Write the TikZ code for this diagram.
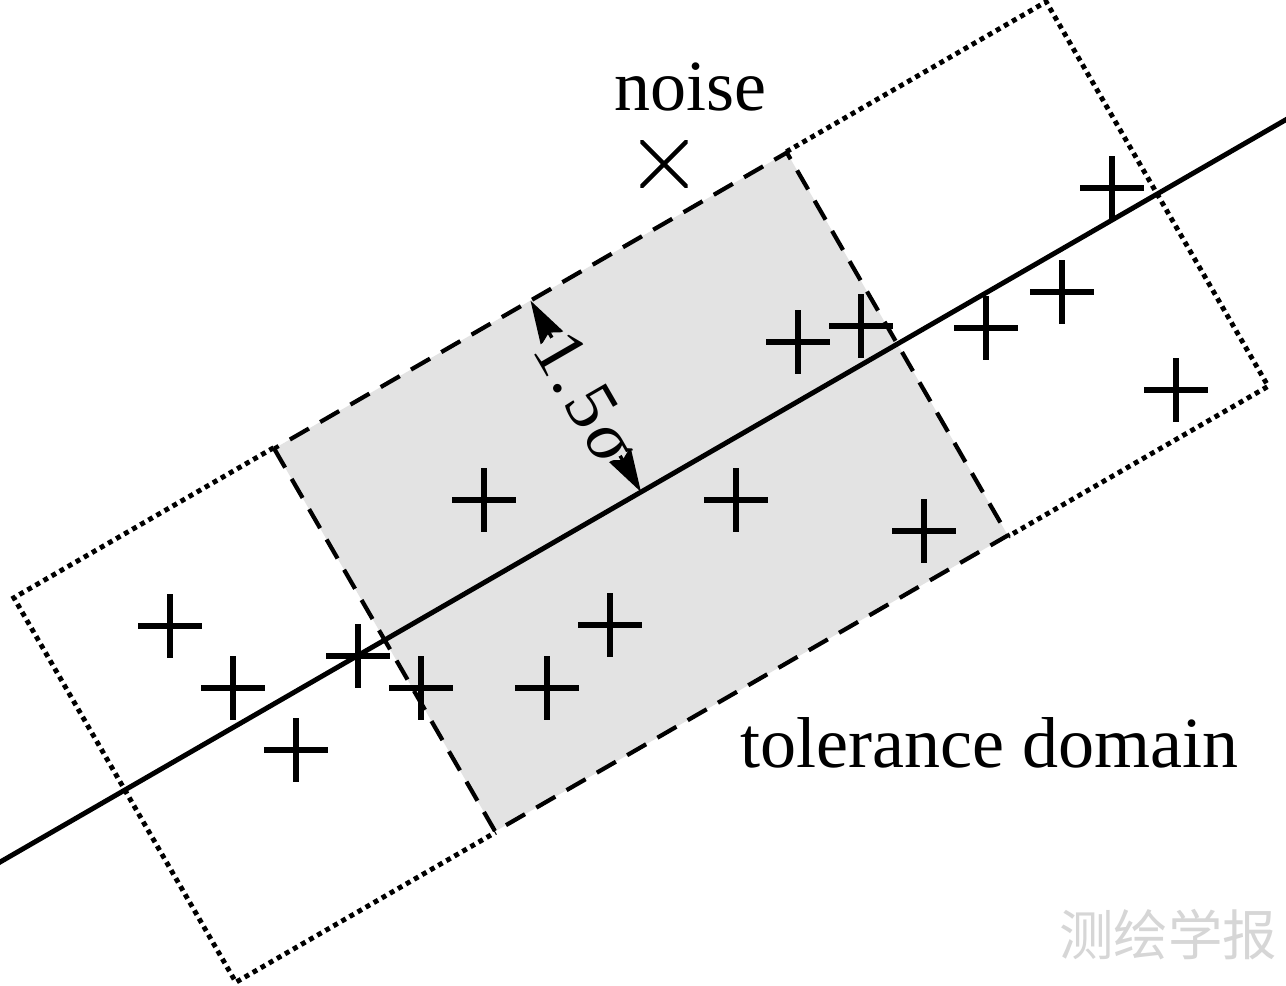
\documentclass[tikz,border=0pt]{standalone}
\usepackage{fontspec}
\setmainfont{Liberation Serif}
\newfontfamily\cjk{Noto Sans CJK SC}
\usetikzlibrary{arrows.meta}
\definecolor{domaingray}{RGB}{227,227,227}
\definecolor{wmgray}{RGB}{214,214,214}
\begin{document}
\begin{tikzpicture}[x=0.02cm,y=-0.02cm,
  dotbox/.style={line width=2.8pt, dash pattern=on 2.8pt off 2.5pt},
  dashbox/.style={line width=2.4pt, dash pattern=on 12.5pt off 7.4pt, fill=domaingray},
  mainline/.style={line width=2.8pt},
  plusm/.style={inner sep=0pt, minimum size=36.3pt, draw=none,
    path picture={\draw[line width=3.4pt]
      (path picture bounding box.north) -- (path picture bounding box.south)
      (path picture bounding box.west) -- (path picture bounding box.east);}},
  crossm/.style={inner sep=0pt, minimum size=27pt, draw=none,
    path picture={\draw[line width=2.6pt]
      (path picture bounding box.north west) -- (path picture bounding box.south east)
      (path picture bounding box.south west) -- (path picture bounding box.north east);}},
  lbl/.style={font=\fontsize{41pt}{41pt}\selectfont, inner sep=0pt},
  dimarrow/.style={line width=2pt,
    {Stealth[length=25pt,width=15pt,inset=4pt]}-{Stealth[length=25pt,width=15pt,inset=4pt]}}
]
\useasboundingbox (0,0) rectangle (1286,985);
\fill[white] (0,0) rectangle (1286,985);
\begin{scope}[shift={(641,492)},rotate=30]
  \draw[dotbox] (-296,-222) -- (-596,-222) -- (-596,222) -- (-296,222);
  \draw[dotbox] (296,-222) -- (596,-222) -- (596,222) -- (296,222);
  \draw[dashbox] (-296,-221) rectangle (296,221);
  \coordinate (C) at (0,0);
  \coordinate (T) at (0,-221);
  \coordinate (M) at (0,-110);
  \coordinate (L1) at (-780,0);
  \coordinate (L2) at (780,0);
\end{scope}
\draw[mainline] (L1) -- (L2);
\draw[dimarrow] (C) -- (T);
\node[font=\fontsize{41pt}{41pt}\selectfont, fill=domaingray, inner sep=0pt, rotate=-60] (lab) at (M) {1\kern1pt.\kern3pt5\kern2pt{\itshape σ}};

\node[plusm] (p1) at (170,626) {};
\node[plusm] (p2) at (233,688) {};
\node[plusm] (p3) at (296,750) {};
\node[plusm] (p4) at (358,656) {};
\node[plusm] (p5) at (421,688) {};
\node[plusm] (p6) at (547,688) {};
\node[plusm] (p7) at (610,625) {};
\node[plusm] (p8) at (484,500) {};
\node[plusm] (p9) at (736,500) {};
\node[plusm] (p10) at (924,531) {};
\node[plusm] (p11) at (798,342) {};
\node[plusm] (p12) at (861,326) {};
\node[plusm] (p13) at (986,328) {};
\node[plusm] (p14) at (1062,292) {};
\node[plusm] (p15) at (1112,188) {};
\node[plusm] (p16) at (1176,390) {};

\node[crossm] (noisept) at (664,164) {};
\node[lbl, anchor=base west] (noise) at (614,110) {noise};
\node[lbl, anchor=base west] (tol) at (740,767) {tolerance domain};
\node[font=\cjk\fontsize{31pt}{31pt}\selectfont, text=wmgray, inner sep=0pt] (wm) at (1168,935) {测绘学报};
\end{tikzpicture}
\end{document}
